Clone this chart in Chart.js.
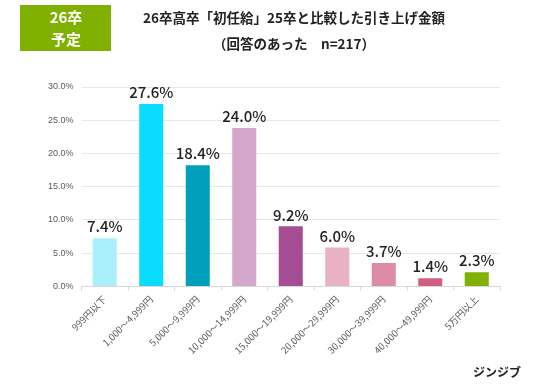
<!DOCTYPE html>
<html>
<head>
<meta charset="utf-8">
<script src="https://cdn.jsdelivr.net/npm/chart.js@4"></script>
<style>
  body { margin: 0; background: #fff; }
  #wrap { width: 536px; height: 386px; position: relative; }
</style>
</head>
<body>
<div id="wrap"><canvas id="chart"></canvas></div>
<script>
const categories = ["999円以下", "1,000～4,999円", "5,000～9,999円", "10,000～14,999円", "15,000～19,999円", "20,000～29,999円", "30,000～39,999円", "40,000～49,999円", "5万円以上"];
const values = [7.4, 27.6, 18.4, 24.0, 9.2, 6.0, 3.7, 1.4, 2.3];
const barColors = ["#aaf0fc", "#0adcff", "#00a0bc", "#d4a8cc", "#a44c94", "#e8b2c4", "#dc8ca4", "#d06082", "#80b000"];
const titleLines = ["26卒高卒「初任給」25卒と比較した引き上げ金額", "（回答のあった　n=217）"];
const badgeLines = ["26卒", "予定"];
const brand = "ジンジブ";

const JP = '"Noto Sans CJK JP", "Noto Sans", sans-serif';

// title, badge, watermark and value labels
const decor = {
  id: "decor",
  afterDatasetsDraw(chart) {
    const ctx = chart.ctx;
    ctx.save();
    // green badge
    ctx.fillStyle = "#80b000";
    ctx.fillRect(20, 5, 91, 46);
    ctx.fillStyle = "#fff";
    ctx.textAlign = "center";
    ctx.textBaseline = "middle";
    ctx.font = "bold 15px " + JP;
    ctx.fillText(badgeLines[0], 66, 17);
    ctx.fillText(badgeLines[1], 66, 39);

    // title
    ctx.fillStyle = "#222";
    ctx.font = "bold 13.5px " + JP;
    ctx.fillText(titleLines[0], 294, 18);
    ctx.fillText(titleLines[1], 294, 44);

    // value labels
    ctx.font = "500 15px " + JP;
    ctx.textBaseline = "bottom";
    const meta = chart.getDatasetMeta(0);
    meta.data.forEach((bar, i) => {
      ctx.fillText(values[i].toFixed(1) + "%", bar.x, bar.y - 3);
    });

    // watermark
    ctx.font = "bold 12px " + JP;
    ctx.textAlign = "right";
    ctx.textBaseline = "middle";
    ctx.fillText(brand, 521, 372);
    ctx.restore();
  }
};

new Chart(document.getElementById("chart"), {
  type: "bar",
  data: {
    labels: categories,
    datasets: [{
      data: values,
      backgroundColor: barColors,
      borderColor: "rgba(255,255,255,0.6)",
      borderWidth: 1,
      barPercentage: 0.56,
      categoryPercentage: 1
    }]
  },
  options: {
    responsive: true,
    maintainAspectRatio: false,
    animation: false,
    layout: { padding: { top: 87, right: 36, bottom: 27, left: 40 } },
    plugins: {
      legend: { display: false },
      tooltip: { enabled: false }
    },
    scales: {
      x: {
        grid: { display: true, drawOnChartArea: false, drawTicks: true, tickLength: 4, color: "#d9d9d9" },
        border: { color: "#d9d9d9" },
        ticks: {
          color: "#595959",
          font: { size: 9.5, family: JP },
          maxRotation: 45,
          minRotation: 45
        }
      },
      y: {
        min: 0,
        max: 30,
        grid: { color: "#e6e6e6", drawTicks: false },
        border: { display: false },
        ticks: {
          stepSize: 5,
          padding: 8,
          color: "#595959",
          font: { size: 9, family: "Liberation Sans, Arial, sans-serif" },
          callback: v => v.toFixed(1) + "%"
        }
      }
    }
  },
  plugins: [decor]
});
</script>
</body>
</html>
